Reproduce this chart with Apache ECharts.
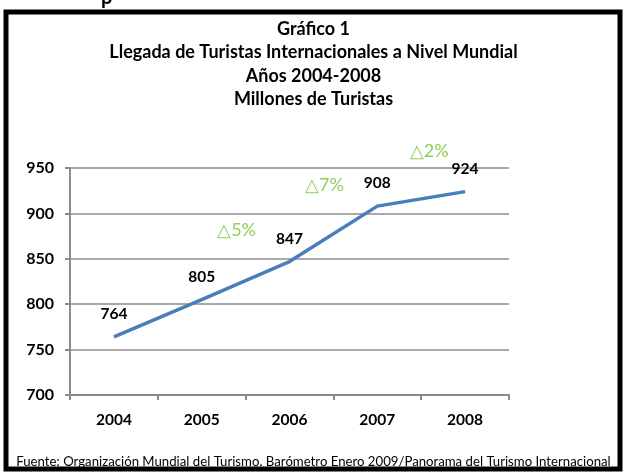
<!DOCTYPE html>
<html>
<head>
<meta charset="utf-8">
<script src="https://cdn.jsdelivr.net/npm/echarts@6/dist/echarts.min.js"></script>
<style>
  html, body { margin: 0; padding: 0; background: #fff; }
  #chart { width: 627px; height: 472px; }
</style>
</head>
<body>
<div id="chart"></div>
<script>
// datos
const years = ["2004", "2005", "2006", "2007", "2008"];
const turistas = [764, 805, 847, 908, 924];
const variaciones = ["5%", "7%", "2%"]; // entre años consecutivos (2005-06, 2006-07, 2007-08)
const variacionDesde = [1, 2, 3];       // índice del año inicial de cada variación
const yTicks = [700, 750, 800, 850, 900, 950];

const fontFam = "Lato, 'Open Sans', sans-serif";
const chart = echarts.init(document.getElementById("chart"));

const option = {
  animation: false,
  title: {
    text: "Gráfico 1\nLlegada de Turistas Internacionales a Nivel Mundial\nAños 2004-2008\nMillones de Turistas",
    left: "center",
    top: 12,
    textStyle: { fontFamily: fontFam, fontSize: 18, fontWeight: "bold", color: "#000", lineHeight: 23.5 }
  },
  grid: { left: 70, right: 118, top: 168, bottom: 77 },
  xAxis: {
    type: "category",
    data: years,
    boundaryGap: true,
    axisLine: { lineStyle: { color: "#8c8c8c", width: 2 } },
    axisTick: { show: true, length: 5, lineStyle: { color: "#8c8c8c", width: 2 } },
    axisLabel: { fontFamily: fontFam, fontSize: 15.5, fontWeight: "bold", color: "#000", margin: 17 }
  },
  yAxis: {
    type: "value",
    min: yTicks[0],
    max: yTicks[yTicks.length - 1],
    interval: 50,
    axisLine: { show: true, lineStyle: { color: "#8c8c8c", width: 2 } },
    axisTick: { show: true, length: 5, lineStyle: { color: "#8c8c8c", width: 2 } },
    splitLine: { lineStyle: { color: "#8c8c8c", width: 1.5 } },
    axisLabel: { fontFamily: fontFam, fontSize: 16, fontWeight: "bold", color: "#000", margin: 16 }
  },
  series: [{
    type: "line",
    data: turistas,
    smooth: false,
    showSymbol: true,
    symbol: "circle",
    symbolSize: 2,
    itemStyle: { color: "rgba(0,0,0,0)" },
    lineStyle: { color: "#4a7ebb", width: 3.5 },
    label: {
      show: true,
      position: "top",
      distance: 14,
      fontFamily: fontFam,
      fontSize: 15.5,
      fontWeight: "bold",
      color: "#000"
    }
  }],
  graphic: [
    {
      type: "rect",
      shape: { x: 6, y: 12, width: 614, height: 457 },
      style: { fill: "none", stroke: "#000", lineWidth: 5 },
      silent: true
    },
    {
      type: "text",
      left: "center",
      bottom: 4,
      style: {
        text: "Fuente: Organización Mundial del Turismo. Barómetro Enero 2009/Panorama del Turismo Internacional",
        font: "13.2px " + fontFam,
        fill: "#000"
      }
    },
    {
      type: "text",
      x: 101,
      y: -12,
      style: { text: "p", font: "bold 20px " + fontFam, fill: "#000" }
    }
  ]
};
chart.setOption(option);

// las etiquetas de variación se colocan sobre el punto medio de cada tramo
const desplaz = [[-9, -50], [-9, -49], [8, -48]];
const extra = variaciones.map((v, k) => {
  const i = variacionDesde[k];
  const a = chart.convertToPixel({ seriesIndex: 0 }, [i, turistas[i]]);
  const b = chart.convertToPixel({ seriesIndex: 0 }, [i + 1, turistas[i + 1]]);
  return {
    type: "text",
    x: (a[0] + b[0]) / 2 + desplaz[k][0],
    y: (a[1] + b[1]) / 2 + desplaz[k][1],
    style: {
      text: "△" + v,
      font: "18px " + fontFam,
      fill: "#8fcf5a",
      align: "center",
      verticalAlign: "middle"
    }
  };
});
chart.setOption({ graphic: option.graphic.concat(extra) });
</script>
</body>
</html>
